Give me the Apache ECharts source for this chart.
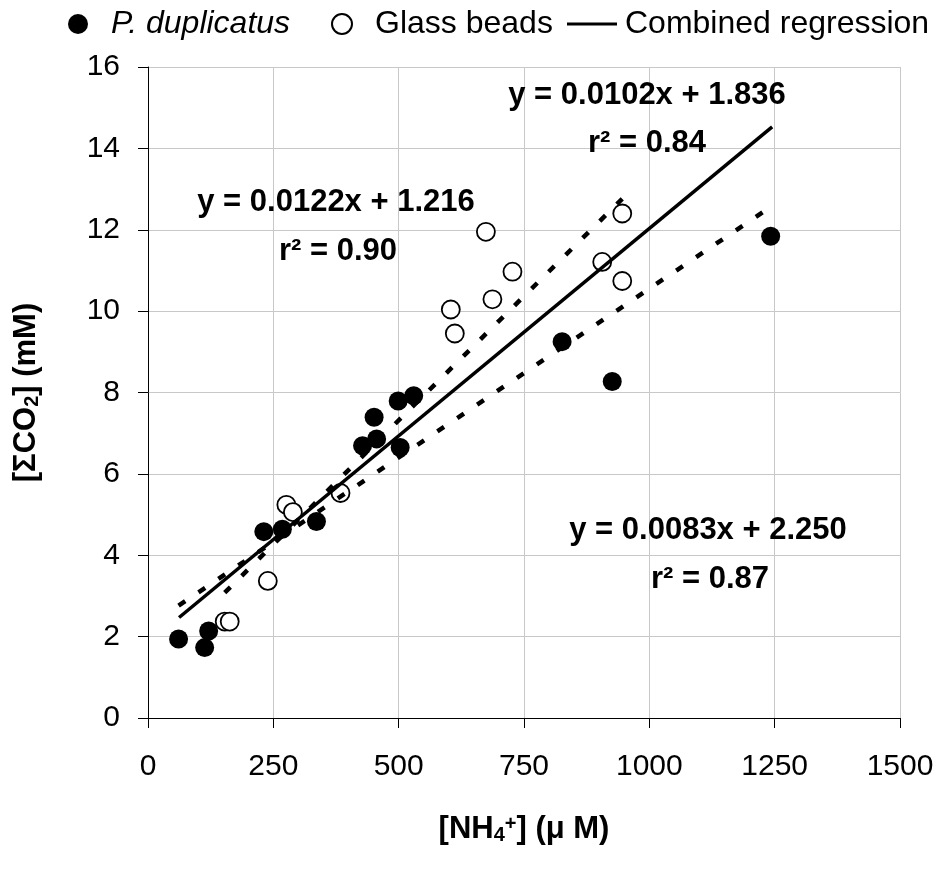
<!DOCTYPE html>
<html>
<head>
<meta charset="utf-8">
<script src="https://cdn.jsdelivr.net/npm/echarts@6/dist/echarts.min.js"></script>
<style>
  html, body { margin: 0; padding: 0; background: #fff; }
  #chart { width: 940px; height: 871px; }
</style>
</head>
<body>
<div id="chart"></div>
<script>
var FONT = '"Liberation Sans", Arial, sans-serif';

// P. duplicatus (filled circles)
var dupX = [61, 113, 121, 231, 268, 336, 428, 451, 456, 499, 503, 530, 826, 926, 1242];
var dupY = [1.94, 1.73, 2.14, 4.58, 4.64, 4.83, 6.69, 7.39, 6.86, 7.79, 6.65, 7.92, 9.25, 8.27, 11.84];

// Glass beads (open circles)
var beadX = [153, 163, 239, 276, 289, 384, 604, 612, 674, 687, 727, 906, 946, 946];
var beadY = [2.37, 2.37, 3.37, 5.24, 5.06, 5.53, 10.04, 9.45, 11.95, 10.29, 10.97, 11.21, 12.40, 10.74];

// regression line end points
var combinedLine = [[62, 2.47], [1245, 14.53]];
var dupFitLine = [[61, 2.76], [1242, 12.56]];
var beadFitLine = [[153, 3.08], [946, 12.76]];

var xTicks = { min: 0, max: 1500, step: 250 };
var yTicks = { min: 0, max: 16, step: 2 };

// equations and r2 written on the chart
var eqTexts = ['y = 0.0102x + 1.836', 'r\u00b2 = 0.84', 'y = 0.0122x + 1.216', 'r\u00b2 = 0.90', 'y = 0.0083x + 2.250', 'r\u00b2 = 0.87'];
var eqPos = [[647, 95], [647, 143], [336, 202], [338, 251], [708, 530], [710, 579]];

function pairs(xs, ys) {
    var out = [];
    for (var i = 0; i < xs.length; i++) {
        out.push([xs[i], ys[i]]);
    }
    return out;
}

var myChart = echarts.init(document.getElementById('chart'));

var graphics = [];
for (var i = 0; i < eqTexts.length; i++) {
    graphics.push({
        type: 'text',
        x: eqPos[i][0],
        y: eqPos[i][1],
        z: 100,
        style: {
            text: eqTexts[i],
            font: 'bold 31px ' + FONT,
            fill: '#000',
            align: 'center',
            verticalAlign: 'middle',
            textAlign: 'center',
            textVerticalAlign: 'middle'
        }
    });
}

var dotted = {
    color: '#000',
    width: 4.5,
    type: [8, 16],
    cap: 'butt'
};

var legendText = {
    fontSize: 32,
    fontFamily: FONT,
    color: '#000',
    rich: {
        i: { fontSize: 32, fontFamily: FONT, fontStyle: 'italic', color: '#000' }
    }
};

function legendAt(name, left, width, icon) {
    var item = { name: name };
    if (icon) item.icon = icon;
    return {
        data: [item],
        left: left,
        top: 8,
        padding: 0,
        itemWidth: width,
        itemHeight: 20,
        textStyle: legendText,
        formatter: function (n) {
            return n === 'P. duplicatus' ? '{i|' + n + '}' : n;
        }
    };
}

var option = {
    animation: false,
    backgroundColor: '#fff',
    textStyle: { fontFamily: FONT, color: '#000' },
    grid: { left: 148, right: 40, top: 67, bottom: 153, outerBoundsMode: 'none' },
    legend: [
        legendAt('P. duplicatus', 68, 56),
        legendAt('Glass beads', 331, 56),
        legendAt('Combined regression', 567, 53,
            'path://M0,0 L0,0 M0,8.5 L50,8.5 L50,11.5 L0,11.5 Z M53,20 L53,20')
    ],
    xAxis: {
        type: 'value',
        min: xTicks.min,
        max: xTicks.max,
        interval: xTicks.step,
        name: '{b|[NH}{sub|4}{sup|+}{b|] (}{b|\u03bc M)}',
        nameLocation: 'middle',
        nameGap: 96,
        nameTextStyle: {
            rich: {
                b: { fontSize: 31, fontWeight: 'bold', fontFamily: FONT, color: '#000' },
                sub: { fontSize: 20, fontWeight: 'bold', fontFamily: FONT, color: '#000', verticalAlign: 'bottom' },
                sup: { fontSize: 20, fontWeight: 'bold', fontFamily: FONT, color: '#000', verticalAlign: 'top' }
            }
        },
        axisLine: { show: true, onZero: false, lineStyle: { color: '#000', width: 1 } },
        axisTick: { show: true, length: 10, lineStyle: { color: '#000' } },
        axisLabel: {
            fontSize: 30, color: '#000', fontFamily: FONT, margin: 34,
            formatter: function (v) { return String(v); }
        },
        splitLine: { show: true, lineStyle: { color: '#c8c8c8', width: 1 } }
    },
    yAxis: {
        type: 'value',
        min: yTicks.min,
        max: yTicks.max,
        interval: yTicks.step,
        name: '{b|[\u03a3CO}{sub|2}{b|] (mM)}',
        nameLocation: 'middle',
        nameGap: 106,
        nameTextStyle: {
            rich: {
                b: { fontSize: 31, fontWeight: 'bold', fontFamily: FONT, color: '#000' },
                sub: { fontSize: 20, fontWeight: 'bold', fontFamily: FONT, color: '#000', verticalAlign: 'bottom' }
            }
        },
        axisLine: { show: true, onZero: false, lineStyle: { color: '#000', width: 1 } },
        axisTick: { show: true, length: 10, lineStyle: { color: '#000' } },
        axisLabel: {
            fontSize: 30, color: '#000', fontFamily: FONT, margin: 28,
            formatter: function (v) { return String(v); }
        },
        splitLine: { show: true, lineStyle: { color: '#c8c8c8', width: 1 } }
    },
    series: [
        {
            name: 'P. duplicatus',
            type: 'scatter',
            symbol: 'circle',
            symbolSize: 19,
            itemStyle: { color: '#000', opacity: 1 },
            data: pairs(dupX, dupY),
            z: 2
        },
        {
            name: 'Glass beads',
            type: 'scatter',
            symbol: 'circle',
            symbolSize: 18,
            itemStyle: { color: '#fff', borderColor: '#000', borderWidth: 1.8, opacity: 1 },
            data: pairs(beadX, beadY),
            z: 3
        },
        {
            name: 'P. duplicatus fit',
            type: 'line',
            symbol: 'none',
            lineStyle: dotted,
            data: dupFitLine,
            z: 4
        },
        {
            name: 'Glass beads fit',
            type: 'line',
            symbol: 'none',
            lineStyle: dotted,
            data: beadFitLine,
            z: 4
        },
        {
            name: 'Combined regression',
            type: 'line',
            symbol: 'none',
            itemStyle: { color: '#000' },
            lineStyle: { color: '#000', width: 3.5 },
            data: combinedLine,
            z: 5
        }
    ],
    graphic: graphics
};

myChart.setOption(option);
</script>
</body>
</html>
